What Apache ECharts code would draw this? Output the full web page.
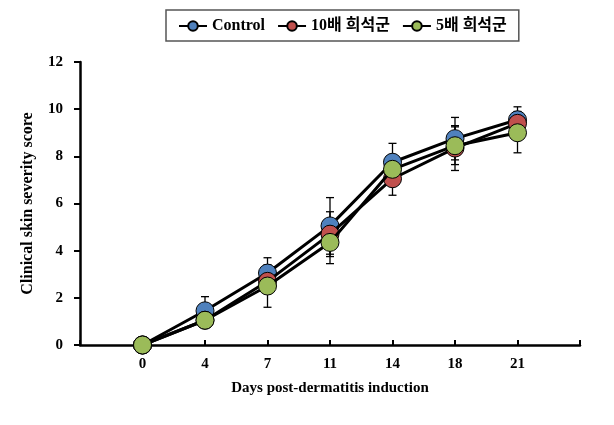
<!DOCTYPE html>
<html><head><meta charset="utf-8">
<script src="https://cdn.jsdelivr.net/npm/echarts@6/dist/echarts.min.js"></script>
<style>html,body{margin:0;padding:0;background:#fff}#c{width:614px;height:425px}</style>
</head><body><div id="c"></div>
<script>
const days = ['0','4','7','11','14','18','21'];
const seriesNames = ['Control','10배 희석군','5배 희석군'];
const controlVals = [0, 1.45, 3.05, 5.05, 7.75, 8.75, 9.55];
const tenfoldVals = [0, 1.05, 2.7, 4.7, 7.05, 8.35, 9.4];
const fivefoldVals = [0, 1.05, 2.5, 4.35, 7.45, 8.45, 9.0];
const controlErr = [0, 0.6, 0.65, 1.2, 0.8, 0.9, 0.55];
const tenfoldErr = [0, 0.3, 0.4, 0.95, 0.7, 0.95, 0.5];
const fivefoldErr = [0, 0.3, 0.9, 0.9, 0.6, 0.8, 0.85];
const colors = ['#4F81BD','#C0504D','#9BBB59'];

const font = "'Liberation Serif','Times New Roman','Noto Sans CJK KR',serif";
const vals = [controlVals, tenfoldVals, fivefoldVals];
const errs = [controlErr, tenfoldErr, fivefoldErr];

const series = [];
vals.forEach((v, s) => {
  series.push({
    type: 'custom',
    silent: true,
    z: 1,
    data: v.map((y, i) => [i, y - errs[s][i], y + errs[s][i]]),
    renderItem: function (params, api) {
      const lo = api.coord([api.value(0), api.value(1)]);
      const hi = api.coord([api.value(0), api.value(2)]);
      const w = 4;
      const st = {stroke: '#000', lineWidth: 1.3};
      return {type: 'group', children: [
        {type: 'line', shape: {x1: lo[0], y1: lo[1], x2: hi[0], y2: hi[1]}, style: st},
        {type: 'line', shape: {x1: lo[0]-w, y1: lo[1], x2: lo[0]+w, y2: lo[1]}, style: st},
        {type: 'line', shape: {x1: hi[0]-w, y1: hi[1], x2: hi[0]+w, y2: hi[1]}, style: st}
      ]};
    }
  });
});
vals.forEach((v, s) => {
  series.push({
    type: 'line',
    name: seriesNames[s],
    z: 2 + s,
    data: v.map((y, i) => [i, y]),
    symbol: 'circle',
    symbolSize: 18,
    lineStyle: {color: '#000', width: 3},
    itemStyle: {color: colors[s], borderColor: '#000', borderWidth: 1},
    emphasis: {disabled: true}
  });
});

const chart = echarts.init(document.getElementById('c'));
chart.setOption({
  animation: false,
  backgroundColor: '#fff',
  legend: {
    top: 10, left: 166,
    data: seriesNames,
    borderColor: '#555', borderWidth: 1.5,
    padding: [8, 12, 7, 12],
    itemWidth: 28, itemHeight: 12, itemGap: 12,
    textStyle: {fontFamily: font, fontWeight: 'bold', fontSize: 16, color: '#000'}
  },
  grid: {left: 80, right: 34, top: 62, bottom: 80},
  xAxis: {
    type: 'value', min: -1, max: 7, interval: 1,
    name: 'Days post-dermatitis induction', nameLocation: 'middle', nameGap: 36,
    nameTextStyle: {fontFamily: font, fontWeight: 'bold', fontSize: 15, color: '#000'},
    axisLine: {lineStyle: {color: '#000', width: 2.5}},
    axisTick: {inside: true, length: 5, lineStyle: {color: '#000', width: 2}},
    splitLine: {show: false},
    axisLabel: {
      fontFamily: font, fontWeight: 'bold', fontSize: 15, color: '#000', margin: 12,
      formatter: v => (v >= 0 && v < days.length) ? days[v] : ''
    }
  },
  yAxis: {
    type: 'value', min: 0, max: 12, interval: 2,
    name: 'Clinical skin severity score', nameLocation: 'middle', nameGap: 44,
    nameTextStyle: {fontFamily: font, fontWeight: 'bold', fontSize: 16, color: '#000'},
    axisLine: {show: true, onZero: false, lineStyle: {color: '#000', width: 2.5}},
    axisTick: {show: true, length: 6, lineStyle: {color: '#000', width: 2}},
    splitLine: {show: false},
    axisLabel: {fontFamily: font, fontWeight: 'bold', fontSize: 15, color: '#000', margin: 17}
  },
  series: series
});
</script></body></html>
